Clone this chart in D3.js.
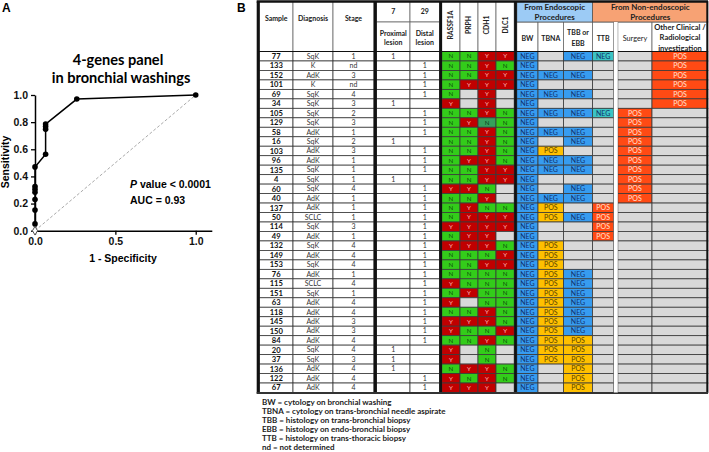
<!DOCTYPE html>
<html><head><meta charset="utf-8">
<script src="https://cdn.jsdelivr.net/npm/d3@7"></script>
<style>body{margin:0;background:#fff}svg{display:block}</style>
</head><body>
<svg id="c" width="709" height="452"></svg>
<script>
// ---------- Panel A data (ROC curve) ----------
const rocFPR = [0, 0, 0, 0, 0, 0, 0, 0, 0.066, 0.066, 0.066, 0.066, 0.26, 1];
const rocTPR = [0, 0.05, 0.152, 0.23, 0.283, 0.305, 0.325, 0.47, 0.563, 0.747, 0.767, 0.786, 0.97, 1];
const xTicks = [0, 0.5, 1];
const yTicks = [0, 0.2, 0.4, 0.6, 0.8, 1];
const pValueText = " value < 0.0001";
const aucText = "AUC = 0.93";

// ---------- Panel B data (table) ----------
const samples   = ["77","133","152","101","69","34","105","129","58","16","103","96","135","4","60","40","137","50","114","49","132","149","153","76","115","151","63","118","145","150","84","20","37","136","122","67"];
const diagnosis = ["SqK","K","AdK","K","SqK","SqK","SqK","SqK","AdK","SqK","AdK","AdK","SqK","SqK","SqK","AdK","AdK","SCLC","SqK","AdK","SqK","AdK","SqK","AdK","SCLC","SqK","AdK","AdK","AdK","AdK","AdK","SqK","SqK","AdK","AdK","AdK"];
const stage     = ["1","nd","3","nd","4","3","2","3","1","2","3","1","1","1","4","1","1","1","3","1","4","4","4","1","4","1","4","4","3","3","4","4","3","4","4","4"];
const lesion    = ["P","D","D","D","D","P","D","D","D","P","D","D","D","P","D","D","D","D","D","D","D","D","D","D","D","D","D","D","D","D","D","P","P","P","D","D"];
const geneNames = ["RASSF1A","PRPH","CDH1","DLC1"];
const rassf1a = ["N","N","N","N","N","Y","N","N","N","N","N","N","N","N","Y","N","N","N","Y","N","Y","N","N","N","Y","N","Y","N","Y","Y","N","Y","Y","N","Y","Y"];
const prph    = ["N","N","N","Y","","","N","Y","N","N","N","Y","N","N","Y","N","Y","Y","Y","Y","Y","N","N","N","N","Y","","N","Y","N","N","","","Y","N","Y"];
const cdh1    = ["Y","Y","Y","Y","Y","Y","Y","n","Y","Y","Y","Y","Y","Y","N","Y","N","Y","Y","Y","Y","N","Y","N","N","N","N","Y","Y","N","Y","N","N","Y","Y","Y"];
const dlc1    = ["Y","N","Y","Y","","","N","N","N","N","N","N","Y","Y","","","N","Y","Y","","N","Y","Y","N","N","N","N","N","N","Y","N","","","N","N",""];
const bw      = samples.map(() => "NEG");
const tbna    = ["","","NEG","","NEG","","NEG","","NEG","","POS","NEG","NEG","","","NEG","POS","POS","","","POS","POS","POS","POS","POS","POS","POS","POS","POS","POS","POS","POS","POS","","",""];
const tbbEbb  = ["NEG","","NEG","","NEG","","NEG","","NEG","NEG","","NEG","NEG","","NEG","NEG","","NEG","","","","","","NEG","NEG","NEG","NEG","NEG","NEG","NEG","POS","POS","POS","POS","POS","POS"];
const ttb     = ["NEG","","","","","","NEG","","","","","","","","","","POS","POS","POS","POS","","","","","","","","","","","","","","","",""];
const surgery = ["","","","","","","POS","POS","POS","POS","POS","POS","POS","POS","POS","POS","","","","","","","","","","","","","","","","","","","",""];
const otherInv= ["POS","POS","POS","POS","POS","POS","","","","","","","","","","","","","","","","","","","","","","","","","","","","","",""];
const footnotes = [
  "BW = cytology on bronchial washing",
  "TBNA = cytology on trans-bronchial needle aspirate",
  "TBB = histology on trans-bronchial biopsy",
  "EBB = histology on endo-bronchial biopsy",
  "TTB = histology on trans-thoracic biopsy",
  "nd = not determined"
];

const svg = d3.select("#c");
const AX = "'Liberation Sans', Arial, sans-serif";
const CF = "Lato, 'Open Sans', sans-serif";

// ================= Panel A =================
svg.append("text").attr("x", 2).attr("y", 12).text("A")
  .attr("font-family", AX).attr("font-weight", "bold").attr("font-size", 12);

const x = d3.scaleLinear().domain([0, 1.1]).range([35, 211.8]);
const y = d3.scaleLinear().domain([0, 1]).range([230.7, 95]);

const gA = svg.append("g");
gA.append("text").attr("x", 118).attr("y", 65).attr("text-anchor", "middle")
  .attr("font-family", CF).attr("font-weight", "bold").attr("font-size", 14.6).text("4-genes panel");
gA.append("text").attr("x", 121).attr("y", 82.5).attr("text-anchor", "middle")
  .attr("font-family", CF).attr("font-weight", "bold").attr("font-size", 14.6).text("in bronchial washings");

// diagonal reference
gA.append("line").attr("x1", x(0)).attr("y1", y(0)).attr("x2", x(1)).attr("y2", y(1))
  .attr("stroke", "#aaa").attr("stroke-width", 1).attr("stroke-dasharray", "3,2");

const xAxis = d3.axisBottom(x).tickValues(xTicks).tickFormat(d3.format(".1f")).tickSize(4).tickSizeOuter(0);
const yAxis = d3.axisLeft(y).tickValues(yTicks).tickFormat(d3.format(".1f")).tickSize(4).tickSizeOuter(0);
const gx = gA.append("g").attr("transform", `translate(0,${y(0)})`).call(xAxis);
const gy = gA.append("g").attr("transform", `translate(${x(0)},0)`).call(yAxis);
[gx, gy].forEach(g => {
  g.select(".domain").attr("stroke", "#000").attr("stroke-width", 1.5);
  g.selectAll(".tick line").attr("stroke", "#000").attr("stroke-width", 1.3);
  g.selectAll(".tick text").attr("font-family", AX).attr("font-weight", "bold").attr("font-size", 10.5).attr("fill", "#111");
});

// ROC line + points
const pts = rocFPR.map((f, i) => [f, rocTPR[i]]);
gA.append("path").datum(pts)
  .attr("d", d3.line().x(d => x(d[0])).y(d => y(d[1])))
  .attr("fill", "none").attr("stroke", "#000").attr("stroke-width", 1.5);
gA.selectAll("circle.pt").data(pts.slice(1)).join("circle").attr("class", "pt")
  .attr("cx", d => x(d[0])).attr("cy", d => y(d[1])).attr("r", 2.8).attr("fill", "#000");
gA.append("path").attr("d", d3.symbol(d3.symbolDiamond, 22)())
  .attr("transform", `translate(${x(pts[0][0])},${y(pts[0][1])})`)
  .attr("fill", "#fff").attr("stroke", "#555").attr("stroke-width", 1);

// axis titles
gA.append("text").attr("x", 123).attr("y", 262).attr("text-anchor", "middle")
  .attr("font-family", AX).attr("font-weight", "bold").attr("font-size", 10.5).text("1 - Specificity");
gA.append("text").attr("transform", "translate(9,162) rotate(-90)").attr("text-anchor", "middle")
  .attr("font-family", AX).attr("font-weight", "bold").attr("font-size", 10.5).text("Sensitivity");

// annotation
const pt = gA.append("text").attr("x", 130).attr("y", 188)
  .attr("font-family", AX).attr("font-weight", "bold").attr("font-size", 10.5);
pt.append("tspan").attr("font-style", "italic").text("P");
pt.append("tspan").text(pValueText);
gA.append("text").attr("x", 130).attr("y", 204).attr("font-family", AX)
  .attr("font-weight", "bold").attr("font-size", 10.5).text(aucText);

// ================= Panel B =================
svg.append("text").attr("x", 237).attr("y", 12).text("B")
  .attr("font-family", AX).attr("font-weight", "bold").attr("font-size", 12);

const T = { top: 1.5, mid: 22, head: 51.5, bottom: 392.5, left: 259.5, right: 708 };
const cols = [
  {k:"sample", x0:259.5, x1:293}, {k:"diag", x0:293, x1:333}, {k:"stage", x0:333, x1:374},
  {k:"prox", x0:376.5, x1:410}, {k:"dist", x0:410, x1:439.5},
  {k:"g0", x0:441.8, x1:460}, {k:"g1", x0:460, x1:478}, {k:"g2", x0:478, x1:496}, {k:"g3", x0:496, x1:514.2},
  {k:"bw", x0:516.8, x1:538}, {k:"tbna", x0:538, x1:563.5}, {k:"tbb", x0:563.5, x1:592.5}, {k:"ttb", x0:592.5, x1:613.8},
  {k:"surg", x0:617.8, x1:652}, {k:"other", x0:652, x1:708}
];
const colBy = Object.fromEntries(cols.map(c => [c.k, c]));
const cx = k => (colBy[k].x0 + colBy[k].x1) / 2;

const rowY = d3.scaleBand().domain(d3.range(samples.length)).range([T.head, T.bottom]);

const C = {
  green: "#33cc1a", darkGreen: "#35a05c", red: "#c00000", gray: "#d9d9d9",
  blue: "#379cf0", teal: "#3cc4c4", yellow: "#ffc000", orange: "#ff4a14",
  hBlue: "#9ccbf5", hSalmon: "#f7a274"
};
const genes = [rassf1a, prph, cdh1, dlc1];
const procs = { bw, tbna, tbb: tbbEbb, ttb, surg: surgery, other: otherInv };

function cellInfo(k, i) {
  if (k === "sample") return { t: samples[i], fill: "#fff", bold: true, tc: "#111" };
  if (k === "diag") return { t: diagnosis[i], fill: "#fff", tc: "#333" };
  if (k === "stage") return { t: stage[i], fill: "#fff", tc: "#333" };
  if (k === "prox") return { t: lesion[i] === "P" ? "1" : "", fill: "#fff", tc: "#333" };
  if (k === "dist") return { t: lesion[i] === "D" ? "1" : "", fill: "#fff", tc: "#333" };
  if (k[0] === "g") {
    const v = genes[+k[1]][i];
    if (v === "Y") return { t: "Y", fill: C.red, tc: "#ffb8b8", g: true };
    if (v === "N") return { t: "N", fill: C.green, tc: "#0e4f0e", g: true };
    if (v === "n") return { t: "N", fill: C.darkGreen, tc: "#0e3f1e", g: true };
    return { t: "", fill: C.gray };
  }
  const v = procs[k][i];
  if (v === "NEG") return { t: v, fill: k === "ttb" ? C.teal : C.blue, tc: "#12306a", p: true };
  if (v === "POS") {
    const yel = (k === "tbna" || k === "tbb");
    return { t: v, fill: yel ? C.yellow : C.orange, tc: yel ? "#5a4200" : "#ffe2d6", p: true };
  }
  return { t: "", fill: C.gray };
}

const gB = svg.append("g");
const cells = [];
samples.forEach((s, i) => cols.forEach(c => cells.push({ c, i, ...cellInfo(c.k, i) })));

gB.selectAll("rect.cell").data(cells).join("rect").attr("class", "cell")
  .attr("x", d => d.c.x0).attr("y", d => rowY(d.i))
  .attr("width", d => d.c.x1 - d.c.x0).attr("height", rowY.bandwidth())
  .attr("fill", d => d.fill).attr("stroke", "#3a3a3a").attr("stroke-width", 0.8);

gB.selectAll("text.cell").data(cells.filter(d => d.t)).join("text").attr("class", "cell")
  .attr("x", d => (d.c.x0 + d.c.x1) / 2).attr("y", d => rowY(d.i) + rowY.bandwidth() / 2)
  .attr("dy", "0.36em").attr("text-anchor", "middle")
  .attr("font-family", CF)
  .attr("font-weight", d => d.bold ? "bold" : "normal")
  .attr("font-size", d => d.bold ? 7.6 : (d.g ? 6.2 : 7))
  .attr("fill", d => d.tc).text(d => d.t);

// ---- header ----
const hdr = svg.append("g");
const headCells = [
  ["sample", T.top, T.head], ["diag", T.top, T.head], ["stage", T.top, T.head],
  ["prox", T.top, T.mid], ["dist", T.top, T.mid], ["prox", T.mid, T.head], ["dist", T.mid, T.head],
  ["g0", T.top, T.head], ["g1", T.top, T.head], ["g2", T.top, T.head], ["g3", T.top, T.head],
  ["bw", T.mid, T.head], ["tbna", T.mid, T.head], ["tbb", T.mid, T.head], ["ttb", T.mid, T.head],
  ["surg", T.mid, T.head], ["other", T.mid, T.head]
];
hdr.selectAll("rect.h").data(headCells).join("rect").attr("class", "h")
  .attr("x", d => colBy[d[0]].x0).attr("y", d => d[1])
  .attr("width", d => colBy[d[0]].x1 - colBy[d[0]].x0).attr("height", d => d[2] - d[1])
  .attr("fill", "#fff").attr("stroke", "#6a6a6a").attr("stroke-width", 0.8);
hdr.append("rect").attr("x", colBy.bw.x0).attr("y", T.top).attr("width", colBy.tbb.x1 - colBy.bw.x0)
  .attr("height", T.mid - T.top).attr("fill", C.hBlue).attr("stroke", "#555").attr("stroke-width", 0.8);
hdr.append("rect").attr("x", colBy.ttb.x0).attr("y", T.top).attr("width", T.right - colBy.ttb.x0)
  .attr("height", T.mid - T.top).attr("fill", C.hSalmon).attr("stroke", "#555").attr("stroke-width", 0.8);

function htext(xp, yp, str, size, weight) {
  hdr.append("text").attr("x", xp).attr("y", yp).attr("dy", "0.36em").attr("text-anchor", "middle")
    .attr("font-family", CF).attr("font-weight", weight || "bold").attr("font-size", size || 7)
    .attr("fill", "#222").text(str);
}
htext(cx("sample"), 18.5, "Sample");
htext(cx("diag"), 18.5, "Diagnosis");
htext(cx("stage"), 18.5, "Stage");
htext(cx("prox"), 11.7, String(lesion.filter(v => v === "P").length));
htext(cx("dist"), 11.7, String(lesion.filter(v => v === "D").length));
htext(cx("prox"), 33.3, "Proximal"); htext(cx("prox"), 42.7, "lesion");
htext(cx("dist"), 33.3, "Distal"); htext(cx("dist"), 42.7, "lesion");
geneNames.forEach((g, j) => {
  hdr.append("text").attr("transform", `translate(${cx("g" + j)},25) rotate(-90)`)
    .attr("dy", "0.36em").attr("text-anchor", "middle").attr("font-family", CF)
    .attr("font-weight", "bold").attr("font-size", 6.8).attr("fill", "#222").text(g);
});
const endoX = (colBy.bw.x0 + colBy.tbb.x1) / 2, nonX = (colBy.ttb.x0 + T.right) / 2;
htext(endoX, 7.3, "From Endoscopic", 8); htext(endoX, 16.7, "Procedures", 8);
htext(nonX, 7.3, "From Non-endoscopic", 8); htext(nonX, 16.7, "Procedures", 8);
htext(cx("bw"), 38, "BW");
htext(cx("tbna"), 38, "TBNA");
htext(cx("tbb"), 32.7, "TBB or"); htext(cx("tbb"), 43.3, "EBB");
htext(cx("ttb"), 38, "TTB");
htext(cx("surg"), 38, "Surgery", 7.3, "normal");
htext(cx("other"), 27.3, "Other Clinical /", 7.6); htext(cx("other"), 37.7, "Radiological", 7.6); htext(cx("other"), 48.1, "investigation", 7.6);

// ---- heavy rules ----
const rules = svg.append("g").attr("stroke", "#111");
rules.append("line").attr("x1", T.left - 1.5).attr("x2", T.right).attr("y1", T.head).attr("y2", T.head).attr("stroke-width", 1.2);
[[258.2, 3], [375.2, 3.2], [440.6, 2.8], [515.5, 2.8]].forEach(([xv, w]) =>
  rules.append("line").attr("x1", xv).attr("x2", xv).attr("y1", T.top).attr("y2", T.bottom + 1).attr("stroke-width", w));
svg.append("rect").attr("x", colBy.ttb.x1).attr("y", T.mid).attr("width", colBy.surg.x0 - colBy.ttb.x1)
  .attr("height", T.bottom - T.mid).attr("fill", "#fff");
[614.3, 617.4].forEach(xv => rules.append("line").attr("x1", xv).attr("x2", xv).attr("y1", T.mid)
  .attr("y2", T.bottom).attr("stroke", "#333").attr("stroke-width", 1.2));
rules.append("line").attr("x1", T.right - 0.8).attr("x2", T.right - 0.8).attr("y1", T.top).attr("y2", T.bottom + 1).attr("stroke-width", 1.8);
rules.append("line").attr("x1", 256.7).attr("x2", T.right).attr("y1", T.top).attr("y2", T.top).attr("stroke-width", 2.5);
rules.append("line").attr("x1", 256.7).attr("x2", T.right).attr("y1", T.bottom + 0.5).attr("y2", T.bottom + 0.5).attr("stroke", "#333").attr("stroke-width", 2);

// ---- footnotes ----
svg.append("g").selectAll("text").data(footnotes).join("text")
  .attr("x", 262).attr("y", (d, i) => 402 + i * 9.1).attr("dy", "0.36em")
  .attr("font-family", CF).attr("font-weight", "bold").attr("font-size", 8).attr("fill", "#222")
  .text(d => d);
</script>
</body></html>
